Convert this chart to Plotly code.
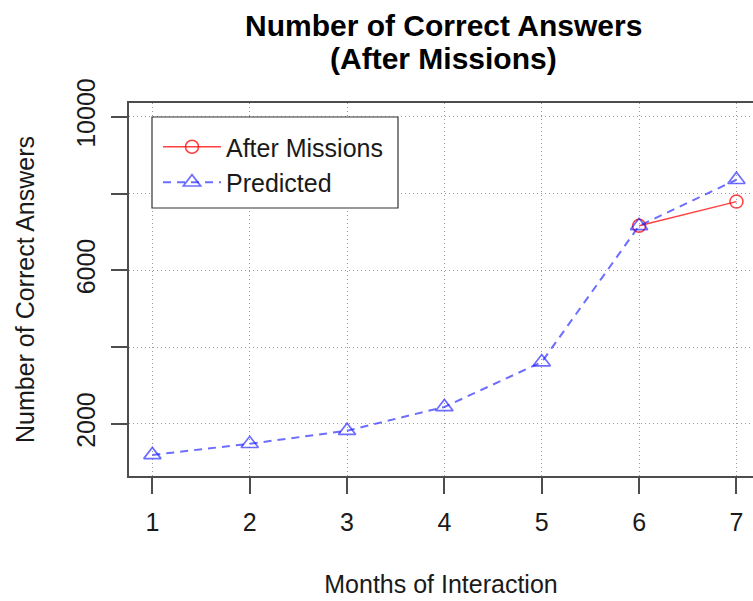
import plotly.graph_objects as go

# Monthly counts of correct answers
months = [1, 2, 3, 4, 5, 6, 7]
predicted = [1190, 1480, 1820, 2440, 3610, 7160, 8360]
after_months = [6, 7]
after_missions = [7160, 7790]

x_ticks = [1, 2, 3, 4, 5, 6, 7]
y_ticks = [2000, 4000, 6000, 8000, 10000]
y_tick_text = ["2000", "", "6000", "", "10000"]

title_lines = ["Number of Correct Answers", "(After Missions)"]

FONT = "Liberation Sans, Arial, Helvetica, sans-serif"
GRID = "#9a9a9a"
AXIS = "#4d4d4d"

# plot-area pixel geometry (used to convert pixel placements to paper units)
PX_LEFT, PX_RIGHT, PX_TOP, PX_BOTTOM = 129, 753, 103, 476
PW, PH = PX_RIGHT - PX_LEFT, PX_BOTTOM - PX_TOP


def px_x(px):
    return (px - PX_LEFT) / PW


def px_y(py):
    return (PX_BOTTOM - py) / PH


fig = go.Figure()

fig.add_trace(go.Scatter(
    x=after_months, y=after_missions, name="After Missions",
    mode="lines+markers",
    line=dict(color="rgba(255,0,0,0.75)", width=1.5),
    marker=dict(symbol="circle-open", size=13,
                line=dict(color="rgba(255,0,0,0.8)", width=1.5)),
))
fig.add_trace(go.Scatter(
    x=months, y=predicted, name="Predicted",
    mode="lines+markers",
    line=dict(color="rgba(30,30,255,0.65)", width=2, dash="8px,6px"),
    marker=dict(symbol="triangle-up-open", size=15,
                line=dict(color="rgba(0,0,255,0.75)", width=1.7)),
))

# legend frame
fig.add_shape(
    type="rect", xref="paper", yref="paper",
    x0=px_x(152), x1=px_x(398), y0=px_y(208), y1=px_y(117),
    line=dict(color="#333333", width=1.2), fillcolor="white",
    layer="above",
)

# two-line bold title
for text, py in zip(title_lines, [25, 59]):
    fig.add_annotation(
        text=f"<b>{text}</b>", xref="paper", yref="paper",
        x=px_x(443), y=px_y(py), xanchor="center", yanchor="middle",
        showarrow=False, font=dict(size=30, color="#000000"),
    )

fig.update_layout(
    width=753, height=601,
    margin=dict(l=PX_LEFT, r=0, t=PX_TOP, b=601 - PX_BOTTOM),
    paper_bgcolor="white", plot_bgcolor="white",
    font=dict(family=FONT, size=25, color="#1a1a1a"),
    showlegend=True,
    legend=dict(
        x=px_x(158), y=px_y(124),
        xanchor="left", yanchor="top",
        bgcolor="rgba(0,0,0,0)", borderwidth=0,
        font=dict(size=25, color="#1a1a1a"),
        itemwidth=58,
        traceorder="normal",
    ),
)

fig.update_xaxes(
    range=[0.76, 7.17], automargin=False,
    tickvals=x_ticks, ticktext=[str(v) for v in x_ticks],
    ticks="outside", ticklen=16, tickwidth=1.5, tickcolor=AXIS,
    showline=True, linecolor=AXIS, linewidth=1.5, mirror=True,
    showgrid=True, gridcolor=GRID, griddash="1px,3px", gridwidth=1.2,
    zeroline=False,
    ticklabelstandoff=7,
    title=dict(text="Months of Interaction", standoff=41,
               font=dict(size=25)),
)
fig.update_yaxes(
    range=[640, 10360], automargin=False,
    tickvals=y_ticks, ticktext=y_tick_text, tickangle=-90,
    ticks="outside", ticklen=16, tickwidth=1.5, tickcolor=AXIS,
    showline=True, linecolor=AXIS, linewidth=1.5, mirror=False,
    showgrid=True, gridcolor=GRID, griddash="1px,3px", gridwidth=1.2,
    zeroline=False,
    ticklabelstandoff=6,
    title=dict(text="Number of Correct Answers", standoff=31,
               font=dict(size=25)),
)

fig.write_html("out.html")
